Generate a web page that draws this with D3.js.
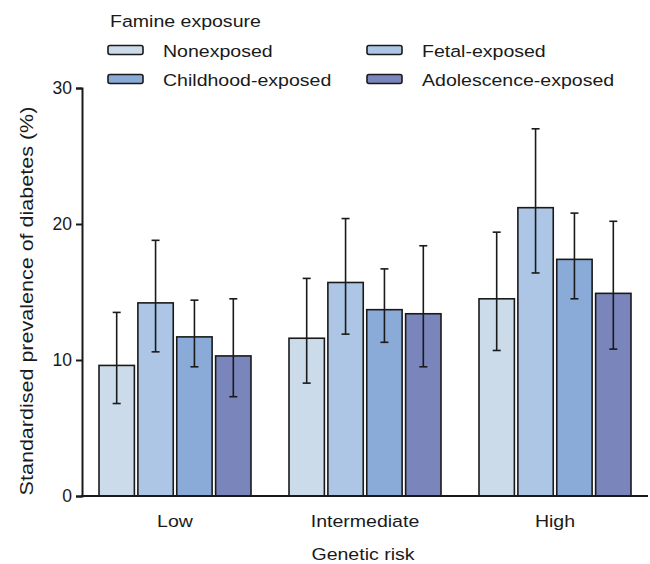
<!DOCTYPE html>
<html>
<head>
<meta charset="utf-8">
<script src="https://cdn.jsdelivr.net/npm/d3@7"></script>
<style>
  body { margin: 0; background: #fff; }
  svg { font-family: Arial, "Liberation Sans", sans-serif; }
</style>
</head>
<body>
<svg id="chart" width="650" height="564"></svg>
<script>
// data
const groups = ["Low", "Intermediate", "High"];
const series = ["Nonexposed", "Fetal-exposed", "Childhood-exposed", "Adolescence-exposed"];
const colors = ["#cbdbea", "#adc6e5", "#8aaad8", "#7985bb"];
const prevalence = [
  [9.6, 14.2, 11.7, 10.3],
  [11.6, 15.7, 13.7, 13.4],
  [14.5, 21.2, 17.4, 14.9]
];
const lower = [
  [6.8, 10.6, 9.5, 7.3],
  [8.3, 11.9, 11.3, 9.5],
  [10.7, 16.4, 14.5, 10.8]
];
const upper = [
  [13.5, 18.8, 14.4, 14.5],
  [16.0, 20.4, 16.7, 18.4],
  [19.4, 27.0, 20.8, 20.2]
];
const yTicks = [0, 10, 20, 30];

const svg = d3.select("#chart");
const ink = "#1a1a1a";
const STRETCH = 1.15; // the source lettering is a bit wider than Arial

const y = d3.scaleLinear().domain([0, 30]).range([496, 88]);
const x0 = d3.scaleBand().domain(groups).range([80, 650]).paddingInner(0.2).paddingOuter(0.1);
const x1 = d3.scaleBand().domain(series).range([0, x0.bandwidth()]).paddingInner(0.09);

// text helper: places a label and widens it along its own direction
function label(sel, x, y, str, opts = {}) {
  const sx = opts.sx || STRETCH;
  const rot = opts.rotate ? ` rotate(${opts.rotate})` : "";
  return sel.append("text")
    .attr("transform", `translate(${x},${y})${rot} scale(${sx},1)`)
    .attr("text-anchor", opts.anchor || "start")
    .attr("fill", ink)
    .style("font-size", (opts.size || 17) + "px")
    .text(str);
}

// y axis
const yAxis = svg.append("g")
  .attr("transform", "translate(82,0)")
  .call(d3.axisLeft(y).tickValues(yTicks).tickSize(6).tickPadding(4));
yAxis.select(".domain").attr("stroke", ink).attr("stroke-width", 2);
yAxis.selectAll(".tick line").attr("stroke", ink).attr("stroke-width", 2);
yAxis.selectAll(".tick text").attr("fill", ink)
  .style("font-size", "17.5px")
  .style("font-family", "Arial, 'Liberation Sans', sans-serif");

// bars
const rows = groups.map((g, i) => series.map((s, j) => ({
  group: g, key: s, color: colors[j],
  v: prevalence[i][j], lo: lower[i][j], hi: upper[i][j]
})));

const gGroup = svg.append("g").selectAll("g")
  .data(rows)
  .join("g")
  .attr("transform", (d, i) => `translate(${x0(groups[i])},0)`);

gGroup.selectAll("rect")
  .data(d => d)
  .join("rect")
  .attr("x", d => x1(d.key))
  .attr("width", x1.bandwidth())
  .attr("y", d => y(d.v))
  .attr("height", d => y(0) - y(d.v))
  .attr("fill", d => d.color)
  .attr("stroke", ink)
  .attr("stroke-width", 1.6);

// error bars
const err = gGroup.selectAll("g.err")
  .data(d => d)
  .join("g")
  .attr("class", "err")
  .attr("transform", d => `translate(${x1(d.key) + x1.bandwidth() / 2},0)`)
  .attr("stroke", ink)
  .attr("stroke-width", 1.6);
err.append("line").attr("y1", d => y(d.lo)).attr("y2", d => y(d.hi));
err.append("line").attr("x1", -4).attr("x2", 4).attr("y1", d => y(d.hi)).attr("y2", d => y(d.hi));
err.append("line").attr("x1", -4).attr("x2", 4).attr("y1", d => y(d.lo)).attr("y2", d => y(d.lo));

// x axis baseline
svg.append("line")
  .attr("x1", 81).attr("x2", 648)
  .attr("y1", y(0)).attr("y2", y(0))
  .attr("stroke", ink).attr("stroke-width", 2);

// category labels
groups.forEach(g => {
  label(svg, x0(g) + x0.bandwidth() / 2, 527, g, { anchor: "middle", size: 17 });
});

// axis titles
label(svg, 363, 560, "Genetic risk", { anchor: "middle", size: 17 });
label(svg, 33, 301, "Standardised prevalence of diabetes (%)",
  { anchor: "middle", size: 17.5, rotate: -90, sx: 1.23 });

// legend
const legend = svg.append("g");
label(legend, 110, 27, "Famine exposure", { size: 17 });

const legendPos = [[108, 50], [367, 50], [108, 79], [367, 79]];
const item = legend.selectAll("g.item")
  .data(series)
  .join("g")
  .attr("class", "item")
  .attr("transform", (d, i) => `translate(${legendPos[i][0]},${legendPos[i][1]})`);
item.append("rect")
  .attr("x", 0).attr("y", -4.5)
  .attr("width", 35).attr("height", 9)
  .attr("rx", 2)
  .attr("fill", (d, i) => colors[i])
  .attr("stroke", ink)
  .attr("stroke-width", 1.6);
item.each(function (d) {
  label(d3.select(this), 55, 6.5, d, { size: 17 });
});
</script>
</body>
</html>
